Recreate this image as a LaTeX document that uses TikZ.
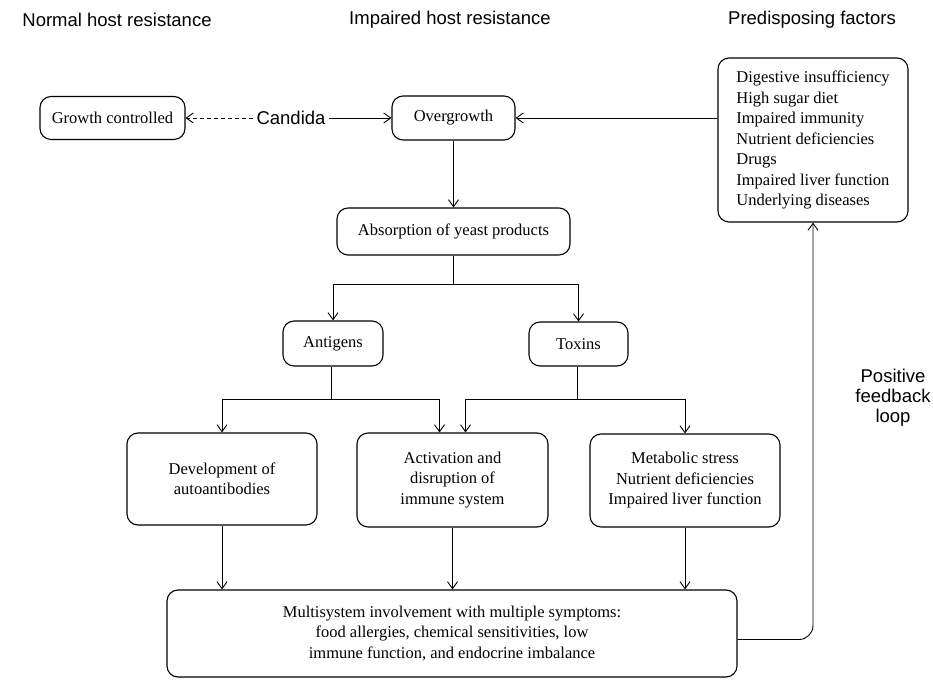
\documentclass[tikz,border=0pt]{standalone}
\usepackage{fontspec}
\setmainfont{Liberation Serif}
\setsansfont{Liberation Sans}
\usetikzlibrary{positioning,arrows.meta}
\tikzset{>={Straight Barb[length=7pt,width=10pt]}}

\begin{document}
\begin{tikzpicture}[x=1pt,y=1pt,
  box/.style={draw,rounded corners=11pt,line width=1.1pt,inner sep=0pt,align=center,
    font=\fontsize{16.5}{20.5}\selectfont},
  head/.style={font=\sffamily\fontsize{18.5}{20}\selectfont,align=center},
  link/.style={->,line width=0.9pt}]
\useasboundingbox (0,0) rectangle (933,680);
\node[head] (normal) at (117,660) {Normal host resistance};
\node[head] (impaired) at (450,660) {Impaired host resistance};
\node[head] (predisp) at (812,660) {Predisposing factors};
\node[box,minimum width=145pt,minimum height=43pt] (growth) at (112.5,562) {Growth controlled};
\node[head] (candida) at (291,562) {Candida};
\node[box,minimum width=123pt,minimum height=44pt] (over) at (453.5,562) {Overgrowth};
\node[box,minimum width=190pt,minimum height=164pt,align=left] (factors) at (813,540)
  {Digestive insufficiency\\High sugar diet\\Impaired immunity\\Nutrient deficiencies\\Drugs\\Impaired liver function\\Underlying diseases};
\node[box,minimum width=233pt,minimum height=47pt] (absorb) at (453.5,448.5) {Absorption of yeast products};
\node[box,minimum width=100pt,minimum height=45pt] (antigens) at (333,336.5) {Antigens};
\node[box,minimum width=99pt,minimum height=44pt] (toxins) at (578.5,336) {Toxins};
\node[box,minimum width=190pt,minimum height=92pt] (develop) at (222,201) {Development of\\autoantibodies};
\node[box,minimum width=191pt,minimum height=94pt] (activ) at (452.5,200) {Activation and\\disruption of\\immune system};
\node[box,minimum width=190pt,minimum height=93pt] (metab) at (685,199.5) {Metabolic stress\\Nutrient deficiencies\\Impaired liver function};
\node[box,minimum width=570pt,minimum height=87pt] (multi) at (452,46.5)
  {Multisystem involvement with multiple symptoms:\\food allergies, chemical sensitivities, low\\immune function, and endocrine imbalance};
\node[head] (loop) at (893,282) {Positive\\feedback\\loop};
\draw[link,dash pattern=on 4pt off 3pt] (candida) -- (growth);
\draw[link] (candida) -- (over);
\draw[link] (factors.west |- over) -- (over.east);
\draw[link] (over) -- (absorb);
\coordinate (split1) at (453.5,396);
\draw[line width=0.9pt] (absorb) -- (split1);
\draw[link] (split1) -| (antigens);
\draw[link] (split1) -| (toxins);
\coordinate (split2) at (331,281);
\draw[line width=0.9pt] (antigens.south -| split2) -- (split2);
\draw[link] (split2) -| (develop);
\draw[link] (split2) -| ([xshift=-13pt]activ.north);
\coordinate (split3) at (577,281);
\draw[line width=0.9pt] (toxins.south -| split3) -- (split3);
\draw[link] (split3) -| ([xshift=13pt]activ.north);
\draw[link] (split3) -| (metab);
\draw[link] (develop) -- (develop |- multi.north);
\draw[link] (activ) -- (activ |- multi.north);
\draw[link] (metab) -- (metab |- multi.north);
\draw[link,rounded corners=14pt] ([yshift=-6pt]multi.east) -| (factors);
\end{tikzpicture}
\end{document}
